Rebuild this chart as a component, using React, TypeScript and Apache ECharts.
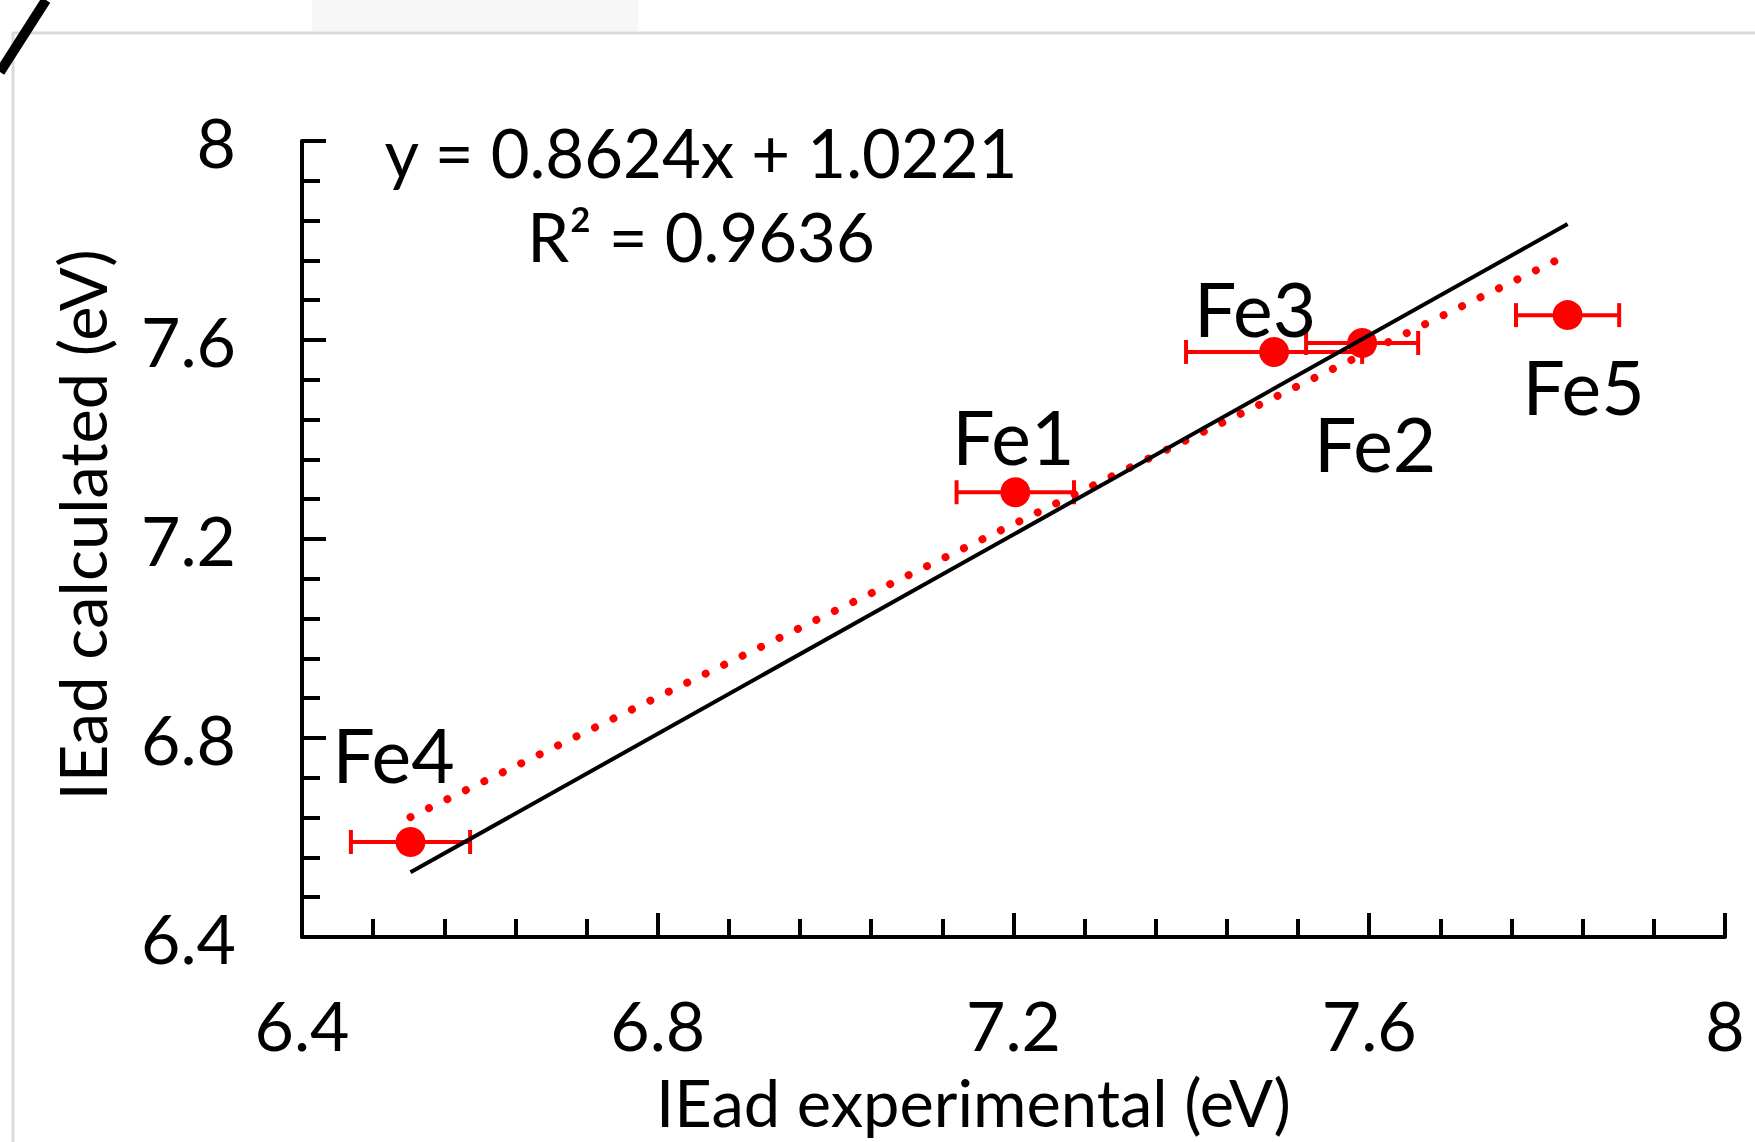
import React, { useEffect, useRef } from "react";
import * as echarts from "echarts";

// ---- data ----
const pointNames = ["Fe1", "Fe2", "Fe3", "Fe4", "Fe5"];
const expValues = [7.202, 7.592, 7.493, 6.522, 7.823]; // IEad experimental (eV)
const calcValues = [7.294, 7.594, 7.576, 6.591, 7.65]; // IEad calculated (eV)
const expErrors = [0.066, 0.063, 0.099, 0.067, 0.058]; // horizontal error bars

const trendX = [6.522, 7.823];
const trendY = [6.641, 7.771];
const parityX = [6.522, 7.823];
const parityY = [6.53, 7.833];

const tickLabels = ["6.4", "6.8", "7.2", "7.6", "8"];
const equationText = "y = 0.8624x + 1.0221";
const r2Text = "R² = 0.9636";
const xName = "IEad experimental (eV)";
const yName = "IEad calculated (eV)";

const FONT = 'Lato, "Open Sans", sans-serif';
const RED = "#ff0000";

const labelOffsets: Record<string, [number, number]> = {
  Fe1: [-2, -56],
  Fe2: [13, 100],
  Fe3: [-19, -44],
  Fe4: [-17, -88],
  Fe5: [16, 71],
};

function fmtTick(v: number) {
  return tickLabels[Math.round((v - 6.4) / 0.4)] ?? "";
}

function axisCommon() {
  return {
    type: "value" as const,
    min: 6.4,
    max: 8,
    interval: 0.4,
    axisLine: { show: true, onZero: false, lineStyle: { color: "#000", width: 4 } },
    axisTick: { show: true, inside: true, length: 24, lineStyle: { color: "#000", width: 4 } },
    minorTick: { show: true, splitNumber: 5, length: 18, lineStyle: { color: "#000", width: 4 } },
    splitLine: { show: false },
    minorSplitLine: { show: false },
  };
}

export default function App() {
  const ref = useRef<HTMLDivElement>(null);

  useEffect(() => {
    if (!ref.current) return;
    const chart = echarts.init(ref.current, null, { renderer: "svg" });

    const pts = pointNames.map((n, i) => ({
      name: n,
      value: [expValues[i], calcValues[i]],
      label: { offset: labelOffsets[n] },
    }));
    const errData = pointNames.map((n, i) => [expValues[i], calcValues[i], expErrors[i]]);

    const option: any = {
      animation: false,
      backgroundColor: "#ffffff",
      grid: { left: 302, top: 141, width: 1423, height: 796, containLabel: false },
      xAxis: {
        ...axisCommon(),
        position: "bottom",
        axisLabel: {
          margin: 53,
          fontSize: 68,
          lineHeight: 68,
          fontFamily: FONT,
          color: "#000",
          formatter: fmtTick,
          showMinLabel: true,
          showMaxLabel: true,
        },
        name: xName,
        nameLocation: "middle",
        nameGap: 132,
        nameTextStyle: {
          fontSize: 65,
          lineHeight: 65,
          fontFamily: FONT,
          color: "#000",
          padding: [0, 80, 0, 0],
        },
      },
      yAxis: {
        ...axisCommon(),
        position: "left",
        axisLabel: {
          margin: 66,
          fontSize: 68,
          lineHeight: 68,
          fontFamily: FONT,
          color: "#000",
          formatter: fmtTick,
          showMinLabel: true,
          showMaxLabel: true,
        },
        name: yName,
        nameLocation: "middle",
        nameRotate: 90,
        nameGap: 188,
        nameTextStyle: {
          fontSize: 65,
          lineHeight: 65,
          fontFamily: FONT,
          color: "#000",
          padding: [0, 0, 0, 28],
        },
      },
      graphic: [
        {
          type: "rect",
          z: -100,
          silent: true,
          shape: { x: 13, y: 33, width: 1800, height: 1200 },
          style: { fill: "#ffffff", stroke: "#d9d9d9", lineWidth: 3 },
        },
        {
          type: "rect",
          z: -100,
          silent: true,
          shape: { x: 312, y: 0, width: 326, height: 31 },
          style: { fill: "#f7f7f7" },
        },
        {
          type: "line",
          z: 100,
          silent: true,
          shape: { x1: 0, y1: 72, x2: 46, y2: 0 },
          style: { stroke: "#000", lineWidth: 10 },
        },
        {
          type: "text",
          z: 100,
          silent: true,
          x: 701,
          y: 152,
          style: {
            text: equationText,
            fontSize: 67,
            fontFamily: FONT,
            fill: "#000",
            align: "center",
            verticalAlign: "middle",
          },
        },
        {
          type: "text",
          z: 100,
          silent: true,
          x: 701,
          y: 236,
          style: {
            text: r2Text,
            fontSize: 67,
            fontFamily: FONT,
            fill: "#000",
            align: "center",
            verticalAlign: "middle",
          },
        },
      ],
      series: [
        {
          type: "custom",
          name: "error bars",
          z: 2,
          silent: true,
          data: errData,
          renderItem: (params: any, api: any) => {
            const x = api.value(0);
            const y = api.value(1);
            const e = api.value(2);
            const l = api.coord([x - e, y]);
            const r = api.coord([x + e, y]);
            const h = 12;
            const st = { stroke: RED, lineWidth: 4 };
            return {
              type: "group",
              children: [
                { type: "line", shape: { x1: l[0], y1: l[1], x2: r[0], y2: r[1] }, style: st },
                { type: "line", shape: { x1: l[0], y1: l[1] - h, x2: l[0], y2: l[1] + h }, style: st },
                { type: "line", shape: { x1: r[0], y1: r[1] - h, x2: r[0], y2: r[1] + h }, style: st },
              ],
            };
          },
        },
        {
          type: "scatter",
          name: "IEad",
          z: 3,
          symbol: "circle",
          symbolSize: 30,
          itemStyle: { color: RED, opacity: 1 },
          label: {
            show: true,
            position: "inside",
            formatter: "{b}",
            fontSize: 75,
            fontFamily: FONT,
            color: "#000",
            opacity: 1,
            align: "center",
            verticalAlign: "middle",
          },
          data: pts,
        },
        {
          type: "line",
          name: "trend",
          z: 4,
          silent: true,
          symbol: "none",
          showSymbol: false,
          data: trendX.map((x, i) => [x, trendY[i]]),
          lineStyle: { color: RED, width: 8, type: [0.01, 20.5], cap: "round" },
        },
        {
          type: "line",
          name: "y = x",
          z: 5,
          silent: true,
          symbol: "none",
          showSymbol: false,
          data: parityX.map((x, i) => [x, parityY[i]]),
          lineStyle: { color: "#000", width: 4 },
        },
      ],
    };

    chart.setOption(option);
    return () => chart.dispose();
  }, []);

  return (
    <div
      ref={ref}
      style={{ position: "fixed", left: 0, top: 0, width: 1755, height: 1142, background: "#fff" }}
    />
  );
}
